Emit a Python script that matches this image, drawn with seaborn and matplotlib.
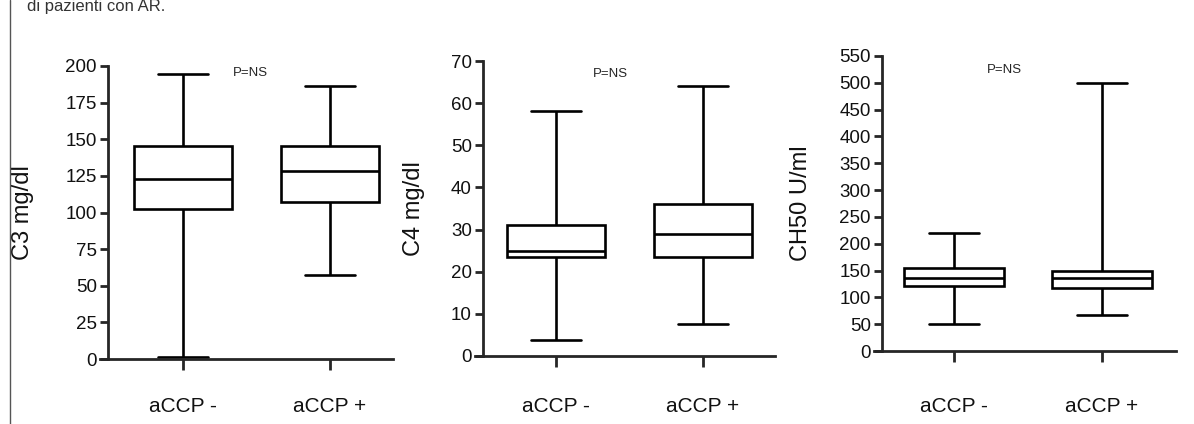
import numpy as np
import pandas as pd
import matplotlib
matplotlib.use('Agg')
import matplotlib.pyplot as plt
from matplotlib.lines import Line2D
import seaborn as sns

# five-number summaries (min, Q1, median, Q3, max)
groups = ['aCCP -', 'aCCP +']
c3_neg = [1.5, 102.5, 123, 145.5, 194.5]
c3_pos = [57.5, 107.5, 128, 145.5, 186.5]
c4_neg = [3.7, 23.6, 25, 31, 58.2]
c4_pos = [7.7, 23.6, 29, 36, 64]
ch50_neg = [50, 122, 137, 154, 220]
ch50_pos = [67, 117, 137, 150, 500]

panels = [
    ('C3 mg/dl', c3_neg, c3_pos, 200, 25),
    ('C4 mg/dl', c4_neg, c4_pos, 70, 10),
    ('CH50 U/ml', ch50_neg, ch50_pos, 550, 50),
]
pvalue_text = 'P=NS'
pvalue_pos = [(0.46, 195), (0.37, 67), (0.34, 524)]
caption = 'di pazienti con AR.'

sns.set_style('ticks')
plt.rcParams['font.family'] = ['Liberation Sans', 'DejaVu Sans']

W, H = 1194, 424
fig = plt.figure(figsize=(W / 100, H / 100), dpi=100)

# pixel boxes: left, right, top, bottom ; category-0 and category-1 x pixels
boxes = [
    (100, 393, 66, 359, 183, 330),
    (475, 775, 61, 356, 556, 703),
    (874, 1176, 56, 351, 954, 1102),
]
ylabel_x = [34, 425, 812]
xlabel_pad = [19.5, 21.5, 25]

for i, (label, neg, pos, ymax, step) in enumerate(panels):
    l, r, t, b, c0, c1 = boxes[i]
    ax = fig.add_axes([l / W, 1 - b / H, (r - l) / W, (b - t) / H])
    df = pd.DataFrame({'group': [groups[0]] * len(neg) + [groups[1]] * len(pos),
                       'value': neg + pos})
    sns.boxplot(data=df, x='group', y='value', whis=(0, 100), width=0.67,
                color='white', linecolor='black', linewidth=1.9, ax=ax)
    span = c1 - c0
    ax.set_xlim((l - c0) / span, (r - c0) / span)
    ax.set_ylim(0, ymax)
    ax.set_yticks(np.arange(0, ymax + 1, step))
    for s in ['top', 'right']:
        ax.spines[s].set_visible(False)
    ax.spines['left'].set_position(('axes', 8 / (r - l)))
    ax.spines['left'].set_linewidth(2)
    ax.spines['bottom'].set_linewidth(2)
    ax.tick_params(axis='y', length=6, width=2, pad=2, labelsize=13.5,
                   labelcolor='#111111')
    ax.tick_params(axis='x', length=8, width=2, pad=xlabel_pad[i], labelsize=15,
                   labelcolor='#111111')
    ax.set_xlabel('')
    ax.set_ylabel(label, fontsize=17, color='#111111')
    ax.yaxis.set_label_coords((ylabel_x[i] - l) / (r - l), 0.5)
    px, py = pvalue_pos[i]
    ax.text(px, py, pvalue_text, fontsize=9.5, ha='center', va='center')

fig.add_artist(Line2D([10 / W, 10 / W], [0, 1], color='#555555', linewidth=1))
fig.text(27 / W, 1 - 11 / H, caption, fontsize=12, color='#333333',
         ha='left', va='baseline')

fig.savefig('out.png', dpi=100)
